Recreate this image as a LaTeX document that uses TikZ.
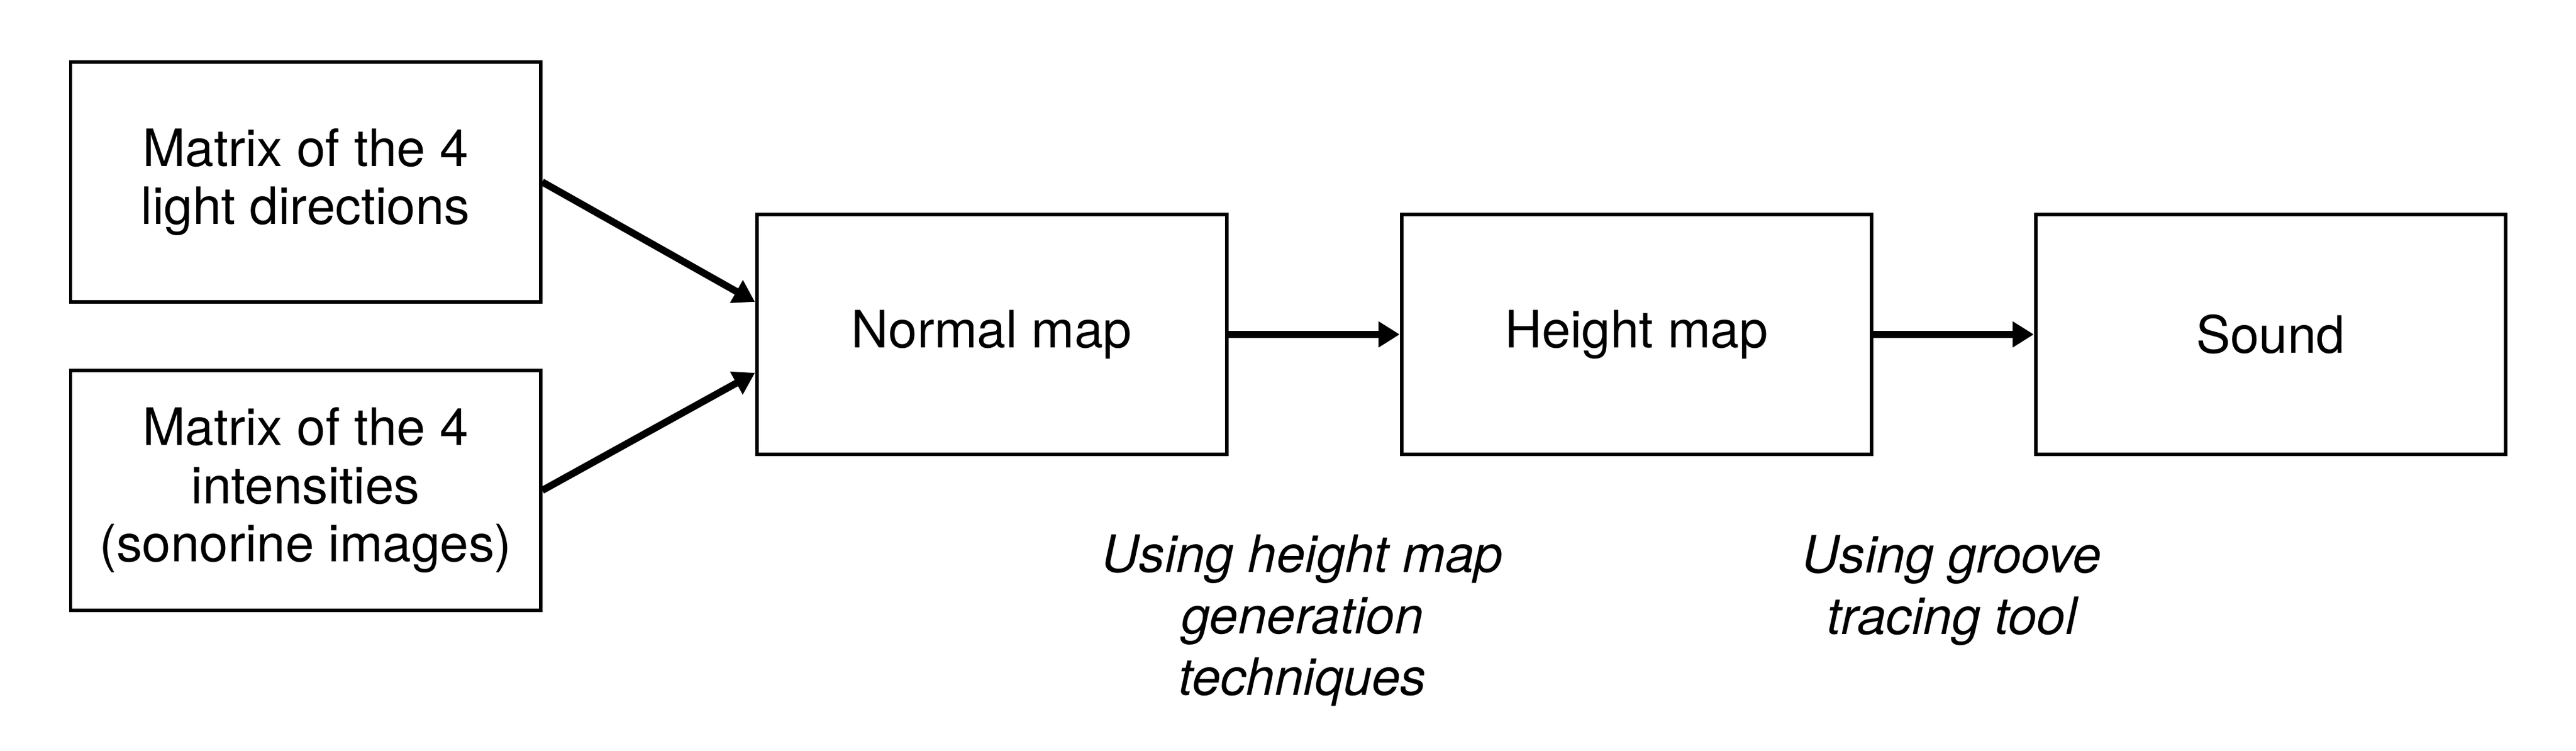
\documentclass[tikz,border=0pt]{standalone}
\usepackage{fontspec}
\setmainfont{TeX Gyre Heros}
\usetikzlibrary{arrows.meta}

\tikzset{
  blockbox/.style={draw, line width=1.7pt, minimum width=7.95cm, minimum height=4.06cm,
    inner sep=0pt, align=center, font=\fontsize{24.8}{28}\selectfont},
  flowarrow/.style={line width=3.4pt, -{Triangle[length=3.6mm,width=4.2mm]}},
  notetext/.style={align=center, inner sep=0pt, font=\itshape\fontsize{24.8}{29.5}\selectfont}
}

\begin{document}
\begin{tikzpicture}
            \useasboundingbox (0,0) rectangle (43.59,12.71);
            % inputs
            \node[blockbox] (lightdir) at (5.17,9.63) {Matrix of the 4\\light directions};
            \node[blockbox] (intens) at (5.17,4.41) {Matrix of the 4\\intensities\\(sonorine images)};
            % pipeline
            \node[blockbox] (normalmap) at (16.78,7.05) {Normal map};
            \node[blockbox] (heightmap) at (27.69,7.05) {Height map};
            \node[blockbox] (sound) at (38.42,7.05) {Sound};
            \draw[flowarrow] (lightdir.east) -- ([yshift=5.5mm]normalmap.west);
            \draw[flowarrow] (intens.east) -- ([yshift=-6.5mm]normalmap.west);
            \draw[flowarrow] (normalmap) -- (heightmap);
            \draw[flowarrow] (heightmap) -- (sound);
            % notes
            \node[notetext] (hmnote) at (22.04,2.21) {Using height map\\generation\\techniques};
            \node[notetext] (groovenote) at (33.03,2.72) {Using groove\\tracing tool};
        \end{tikzpicture}
\end{document}
